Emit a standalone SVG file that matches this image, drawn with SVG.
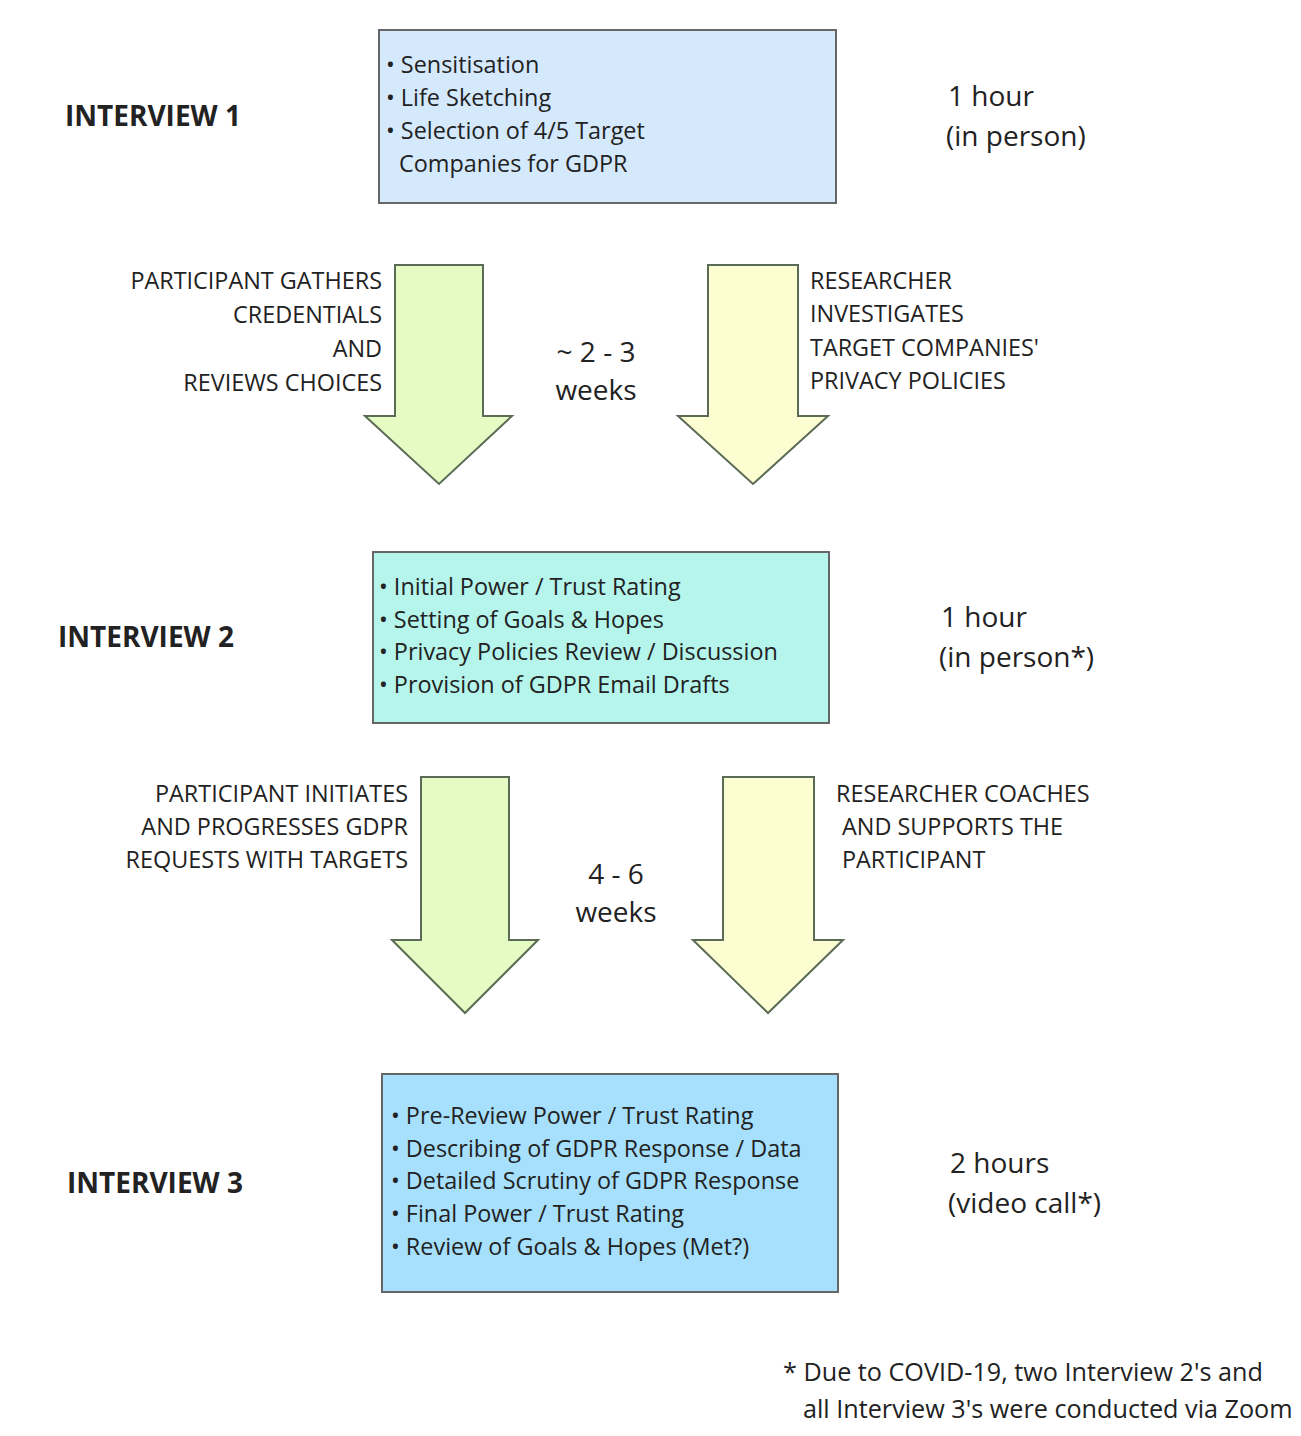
<svg xmlns="http://www.w3.org/2000/svg" width="1301" height="1436" viewBox="0 0 1301 1436">
<style>
text{font-family:"Open Sans","Noto Sans","Liberation Sans",sans-serif;fill:#222;}
.lbl{font-size:28px;font-weight:bold;}
.item{font-size:23.4px;}
.dur{font-size:28px;}
.cap{font-size:23.4px;}
.foot{font-size:25.2px;}
.box{stroke:#666;stroke-width:2;}
.ga{fill:#e5fbc4;stroke:#5b6b55;stroke-width:2;}
.ya{fill:#fdfdd2;stroke:#5b6b55;stroke-width:2;}
</style>
<rect width="1301" height="1436" fill="#fff"/>
<g id="interview1">
<text class="lbl" x="65" y="126">INTERVIEW 1</text>
<rect class="box" x="379" y="30" width="457" height="173" fill="#d4e9fc"/>
<text class="item" x="386" y="73">• Sensitisation</text>
<text class="item" x="386" y="106">• Life Sketching</text>
<text class="item" x="386" y="139">• Selection of 4/5 Target</text>
<text class="item" x="399" y="172">Companies for GDPR</text>
<text class="dur" x="948" y="106">1 hour</text>
<text class="dur" x="946" y="146">(in person)</text>
</g>
<g id="interview2">
<text class="lbl" x="58" y="647">INTERVIEW 2</text>
<rect class="box" x="373" y="552" width="456" height="171" fill="#b5f5ec"/>
<text class="item" x="379" y="595">• Initial Power / Trust Rating</text>
<text class="item" x="379" y="628">• Setting of Goals &amp; Hopes</text>
<text class="item" x="379" y="660">• Privacy Policies Review / Discussion</text>
<text class="item" x="379" y="693">• Provision of GDPR Email Drafts</text>
<text class="dur" x="941" y="627">1 hour</text>
<text class="dur" x="939" y="667">(in person*)</text>
</g>
<g id="interview3">
<text class="lbl" x="67" y="1193">INTERVIEW 3</text>
<rect class="box" x="382" y="1074" width="456" height="218" fill="#a6e0fc"/>
<text class="item" x="391" y="1124">• Pre-Review Power / Trust Rating</text>
<text class="item" x="391" y="1157">• Describing of GDPR Response / Data</text>
<text class="item" x="391" y="1189">• Detailed Scrutiny of GDPR Response</text>
<text class="item" x="391" y="1222">• Final Power / Trust Rating</text>
<text class="item" x="391" y="1255">• Review of Goals &amp; Hopes (Met?)</text>
<text class="dur" x="950" y="1173">2 hours</text>
<text class="dur" x="948" y="1213">(video call*)</text>
</g>
<g id="connectors">
<polygon class="ga" points="395,265 483,265 483,416 512,416 439,484 365,416 395,416"/>
<polygon class="ya" points="708,265 798,265 798,416 828,416 753,484 678,416 708,416"/>
<polygon class="ga" points="421,777 509,777 509,940 538,940 465,1013 392,940 421,940"/>
<polygon class="ya" points="723,777 814,777 814,940 843,940 768,1013 693,940 723,940"/>
</g>
<g id="phase1-labels">
<g text-anchor="end">
<text class="cap" x="382" y="289">PARTICIPANT GATHERS</text>
<text class="cap" x="382" y="323">CREDENTIALS</text>
<text class="cap" x="382" y="357">AND</text>
<text class="cap" x="382" y="391">REVIEWS CHOICES</text>
</g>
<text class="cap" x="810" y="289">RESEARCHER</text>
<text class="cap" x="810" y="322">INVESTIGATES</text>
<text class="cap" x="810" y="356">TARGET COMPANIES'</text>
<text class="cap" x="810" y="389">PRIVACY POLICIES</text>
<text class="dur" x="596" y="362" text-anchor="middle">~ 2 - 3</text>
<text class="dur" x="596" y="400" text-anchor="middle">weeks</text>
</g>
<g id="phase2-labels">
<g text-anchor="end">
<text class="cap" x="408" y="802">PARTICIPANT INITIATES</text>
<text class="cap" x="408" y="835">AND PROGRESSES GDPR</text>
<text class="cap" x="408" y="868">REQUESTS WITH TARGETS</text>
</g>
<text class="cap" x="836" y="802">RESEARCHER COACHES</text>
<text class="cap" x="842" y="835">AND SUPPORTS THE</text>
<text class="cap" x="842" y="868">PARTICIPANT</text>
<text class="dur" x="616" y="884" text-anchor="middle">4 - 6</text>
<text class="dur" x="616" y="922" text-anchor="middle">weeks</text>
</g>
<g id="footnote">
<text class="foot" x="783" y="1381">* Due to COVID-19, two Interview 2's and</text>
<text class="foot" x="803" y="1418">all Interview 3's were conducted via Zoom</text>
</g>
</svg>
